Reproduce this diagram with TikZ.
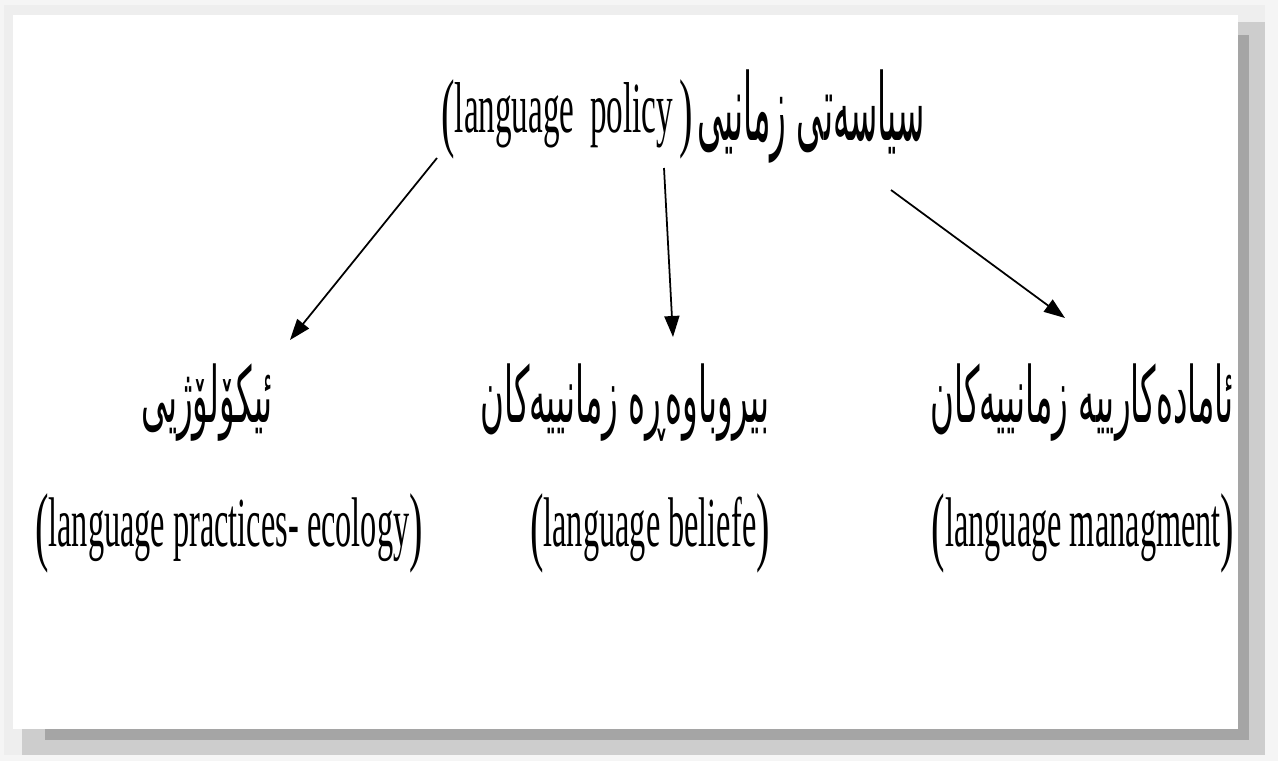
\documentclass[tikz,border=0pt]{standalone}
\usepackage{fontspec}
\usetikzlibrary{arrows.meta}
\TeXXeTstate=1
\newfontfamily\kurdfont[Script=Arabic,FakeStretch=0.42]{DejaVu Sans}
\newfontfamily\kurdtitlefont[Script=Arabic,FakeStretch=0.35]{DejaVu Sans}
\newfontfamily\engfont[FakeStretch=0.46]{Liberation Serif}
\newcommand{\openp}{\raisebox{-0.16cm}{\fontsize{50}{50}\selectfont(}}
\newcommand{\closep}{\raisebox{-0.16cm}{\fontsize{50}{50}\selectfont)}}
\definecolor{shadowdark}{HTML}{A5A5A5}
\definecolor{shadowmid}{HTML}{CDCDCD}
\definecolor{shadowlight}{HTML}{EEEEEE}
\begin{document}
\begin{tikzpicture}[x=0.02cm, y=-0.02cm,
    kurd/.style={font=\kurdfont\fontsize{44}{50}\selectfont, inner sep=0pt},
    kurdbig/.style={font=\kurdtitlefont\fontsize{53}{60}\selectfont, inner sep=0pt},
    eng/.style={font=\engfont\fontsize{40}{46}\selectfont, inner sep=0pt},
    engbig/.style={font=\engfont\fontsize{41}{46}\selectfont, inner sep=0pt},
    arrow/.style={-{Triangle[length=0.42cm,width=0.3cm]}, line width=1pt}
]
    % --- frame with shadow ---
    \useasboundingbox (0,0) rectangle (1278,761);
    \fill[white!96!black] (0,0) rectangle (1278,761);
    \fill[shadowlight] (4,5) rectangle (1265,755);
    \fill[shadowmid] (22,22) rectangle (1265,755);
    \fill[shadowdark] (45,35) rectangle (1249,740);
    \fill[white] (13,15) rectangle (1238,729);

    % --- top: language policy ---
    \node[engbig, anchor=base west] (policy) at (441,132) {\openp language\hspace{0.32cm}policy\hspace{0.12cm}\closep};
    \node[kurdbig, anchor=base west] (siasat) at (697,140) {\beginR سیاسەتی زمانیی\endR};

    % --- Kurdish labels ---
    \node[kurd, anchor=base] (eco) at (207,422) {\beginR ئیکۆلۆژیی\endR};
    \node[kurd, anchor=base] (belief) at (625,422) {\beginR بیروباوەڕە زمانییەکان\endR};
    \node[kurd, anchor=base] (manage) at (1082,422) {\beginR ئامادەکارییە زمانییەکان\endR};

    % --- English labels ---
    \node[eng, anchor=base] (ecoen) at (229,546) {\openp language practices- ecology\closep};
    \node[eng, anchor=base] (beliefen) at (650,546) {\openp language beliefe\closep};
    \node[eng, anchor=base] (manageen) at (1083,546) {\openp language managment\closep};

    % --- arrows ---
    \coordinate (from1) at (437,158);
    \coordinate (to1) at (290,340);
    \coordinate (from2) at (664,168);
    \coordinate (to2) at (673,337);
    \coordinate (from3) at (891,190);
    \coordinate (to3) at (1065,318);
    \draw[arrow] (from1) -- (to1);
    \draw[arrow] (from2) -- (to2);
    \draw[arrow] (from3) -- (to3);
\end{tikzpicture}
\end{document}
